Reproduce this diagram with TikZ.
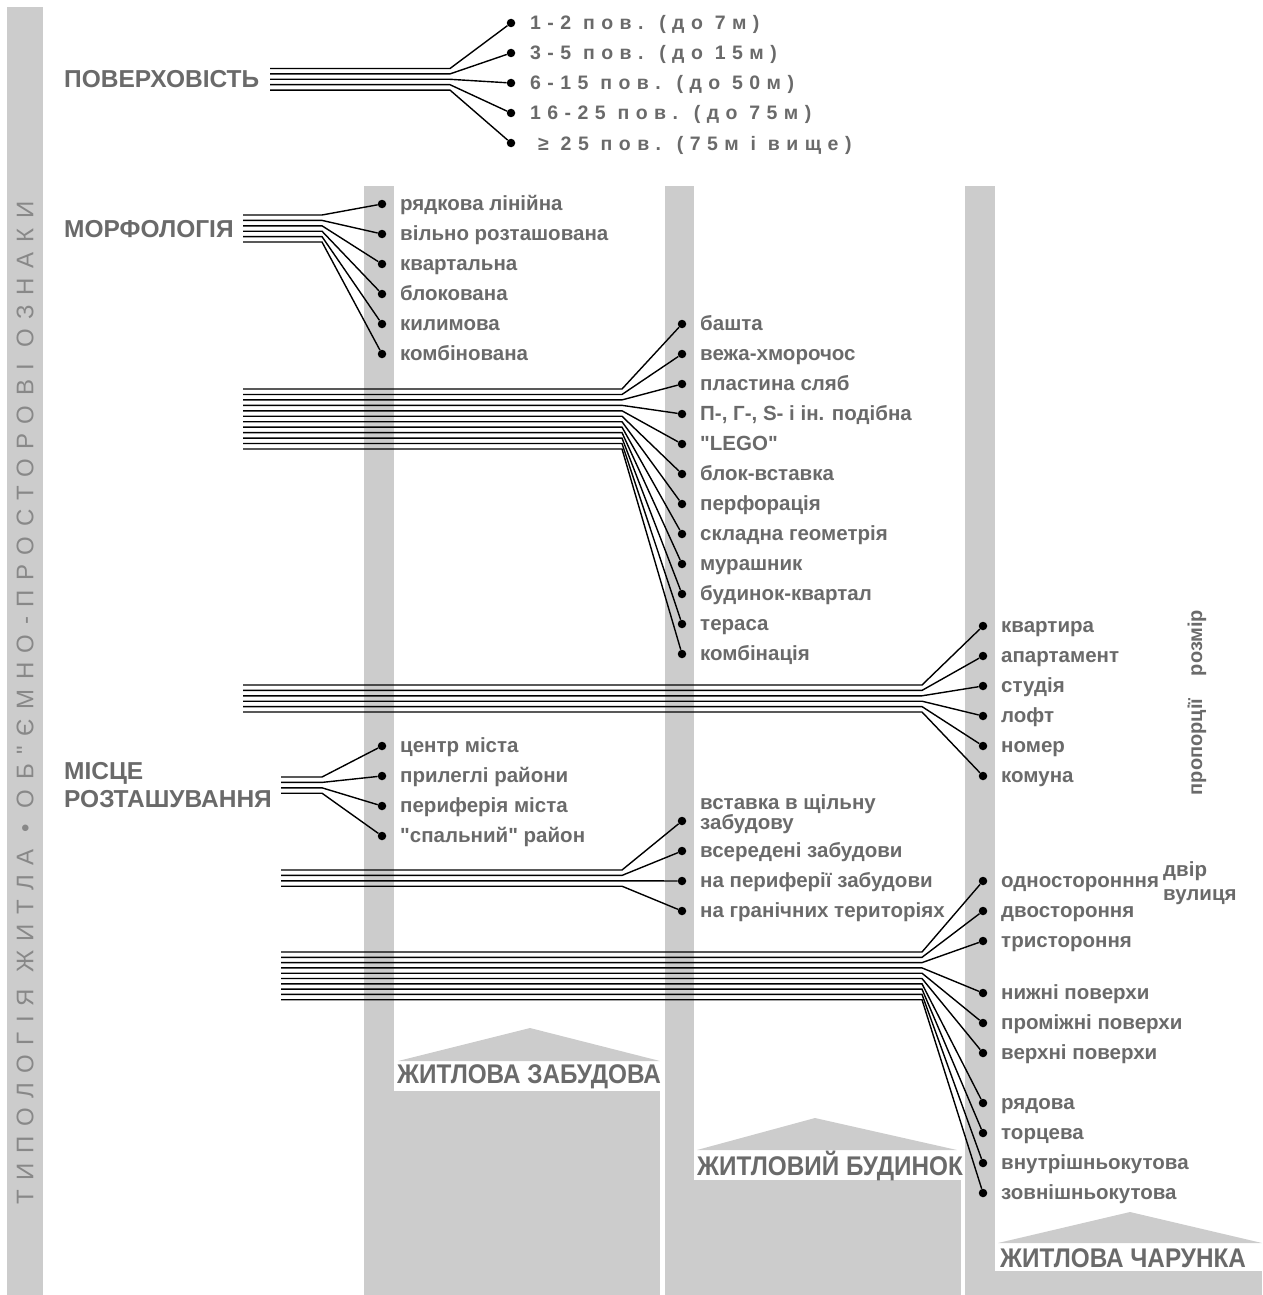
\documentclass[tikz,border=0pt]{standalone}
\usepackage{fontspec}
\setmainfont{Liberation Sans}
\newfontfamily\plainfont{Liberation Sans}
\newfontfamily\spfont[LetterSpace=33]{Liberation Sans}
\newfontfamily\vfont[LetterSpace=40]{Liberation Sans}
\newfontfamily\cfont[FakeStretch=0.9]{Liberation Sans}
\usetikzlibrary{calc}
\definecolor{barg}{HTML}{CCCCCC}
\definecolor{txtg}{HTML}{6A6A6A}
\definecolor{vtxt}{HTML}{888888}
\tikzset{
  ln/.style={line width=1.4pt, black},
  dotn/.style={circle, fill=black, inner sep=0pt, minimum size=8.5pt},
  lbl/.style={anchor=base west, inner sep=0pt, text=txtg, font=\plainfont\bfseries\fontsize{20.5}{20.5}\selectfont},
  splbl/.style={anchor=base west, inner sep=0pt, text=txtg, font=\spfont\bfseries\fontsize{19.5}{19.5}\selectfont},
  head/.style={anchor=west, inner sep=0pt, text=txtg, align=left, font=\plainfont\bfseries\fontsize{24.5}{28}\selectfont},
  colhead/.style={inner sep=0pt, text=txtg, font=\cfont\bfseries\fontsize{27}{27}\selectfont},
  rotlbl/.style={rotate=90, inner sep=0pt, text=txtg, font=\plainfont\bfseries\fontsize{20}{20}\selectfont},
  barfill/.style={fill=barg, draw=none}
}
\begin{document}
\begin{tikzpicture}[x=1pt,y=-1pt]
\useasboundingbox (0,0) rectangle (1262,1295);
% bars
\fill[barfill] (7,7) rectangle (43,1295);
\fill[barfill] (364,186) rectangle (394,1295);
\fill[barfill] (665,186) rectangle (694,1295);
\fill[barfill] (965,186) rectangle (995,1295);
\fill[barfill] (364,1091) rectangle (660,1295);
\fill[barfill] (665,1180) rectangle (961,1295);
\fill[barfill] (965,1271) rectangle (1262,1295);
% roofs
\fill[barfill] (398,1061) -- (530,1028) -- (660,1061) -- cycle;
\fill[barfill] (697,1150) -- (815,1118) -- (957,1150) -- cycle;
\fill[barfill] (998,1243) -- (1130,1212) -- (1262,1243) -- cycle;
% column titles
\node[colhead] (t1) at (529,1077) {ЖИТЛОВА ЗАБУДОВА};
\node[colhead] (t2) at (830,1166) {ЖИТЛОВИЙ БУДИНОК};
\node[colhead] (t3) at (1123,1258) {ЖИТЛОВА ЧАРУНКА};
% vertical title
\node[rotate=90, anchor=west, inner sep=0pt, text=vtxt, font=\vfont\fontsize{24}{24}\selectfont] (vt) at (25,1205) {ТИПОЛОГІЯ ЖИТЛА • ОБ"ЄМНО-ПРОСТОРОВІ ОЗНАКИ};
% headings
\node[head] (hp) at (64,79) {ПОВЕРХОВІСТЬ};
\node[head] (hm) at (64,229) {МОРФОЛОГІЯ};
\node[head] (hl) at (64,785) {МІСЦЕ\\РОЗТАШУВАННЯ};
% group P
\foreach \t [count=\k from 0] in {1-2 пов. (до 7м), 3-5 пов. (до 15м), 6-15 пов. (до 50м), 16-25 пов. (до 75м), {\hspace{8pt}≥ 25 пов. (75м і вище)}} {
  \node[dotn] (p\k) at (511,{23+30*\k}) {};
  \node[splbl] (pl\k) at (530,{30+30*\k}) {\t};
  \coordinate (ps\k) at (270,{68.5+5.4*\k});
  \coordinate (pb\k) at (450,{68.5+5.4*\k});
  \draw[ln] (ps\k) -- (pb\k) -- (p\k);
}
% group M
\foreach \t [count=\k from 0] in {рядкова лінійна, вільно розташована, квартальна, блокована, килимова, комбінована} {
  \node[dotn] (m\k) at (382,{204+30*\k}) {};
  \node[lbl] (ml\k) at (400,{210.5+30*\k}) {\t};
  \coordinate (ms\k) at (243,{215+5.4*\k});
  \coordinate (mb\k) at (322,{215+5.4*\k});
  \draw[ln] (ms\k) -- (mb\k) -- (m\k);
}
% group B
\foreach \t [count=\k from 0] in {башта, вежа-хморочос, пластина сляб, {П-, Г-, S- і ін. подібна}, "LEGO", блок-вставка, перфорація, складна геометрія, мурашник, будинок-квартал, тераса, комбінація} {
  \node[dotn] (b\k) at (682,{324+30*\k}) {};
  \node[lbl] (bl\k) at (700,{330.5+30*\k}) {\t};
  \coordinate (bs\k) at (243,{389+5.45*\k});
  \coordinate (bb\k) at (622,{389+5.45*\k});
  \draw[ln] (bs\k) -- (bb\k) -- (b\k);
}
% group C
\foreach \t [count=\k from 0] in {квартира, апартамент, студія, лофт, номер, комуна} {
  \node[dotn] (c\k) at (983,{626+30*\k}) {};
  \node[lbl] (cl\k) at (1001,{632.5+30*\k}) {\t};
  \coordinate (cs\k) at (243,{685+5.4*\k});
  \coordinate (cb\k) at (922,{685+5.4*\k});
  \draw[ln] (cs\k) -- (cb\k) -- (c\k);
}
\node[rotlbl] (rz) at (1197,643) {розмір};
\node[rotlbl] (rp) at (1197,747) {пропорції};
% group L
\foreach \t [count=\k from 0] in {центр міста, прилеглі райони, периферія міста, "спальний" район} {
  \node[dotn] (l\k) at (382,{746+30*\k}) {};
  \node[lbl] (ll\k) at (400,{752.5+30*\k}) {\t};
  \coordinate (ls\k) at (281,{777+5.4*\k});
  \coordinate (lb\k) at (322,{777+5.4*\k});
  \draw[ln] (ls\k) -- (lb\k) -- (l\k);
}
% group Z
\foreach \y/\t [count=\k from 0] in {821/{}, 851/всередені забудови, 881/на периферії забудови, 911/на гранічних територіях} {
  \node[dotn] (z\k) at (682,\y) {};
  \node[lbl] (zl\k) at (700,{\y+6.5}) {\t};
  \coordinate (zs\k) at (281,{870+5.4*\k});
  \coordinate (zb\k) at (622,{870+5.4*\k});
  \draw[ln] (zs\k) -- (zb\k) -- (z\k);
}
\node[lbl, align=left, font=\plainfont\bfseries\fontsize{20.5}{18}\selectfont, anchor=north west] (zl0b) at (700,794) {вставка в щільну\\забудову};
% group K
\foreach \y/\t [count=\k from 0] in {881/односторонння, 911/двостороння, 941/тристороння, 993/нижні поверхи, 1023/проміжні поверхи, 1053/верхні поверхи, 1103/рядова, 1133/торцева, 1163/внутрішньокутова, 1193/зовнішньокутова} {
  \node[dotn] (k\k) at (983,\y) {};
  \node[lbl] (kl\k) at (1001,{\y+6.5}) {\t};
  \coordinate (ks\k) at (281,{952+5.3*\k});
  \coordinate (kb\k) at (922,{952+5.3*\k});
  \draw[ln] (ks\k) -- (kb\k) -- (k\k);
}
\node[lbl] (dv) at (1163,876) {двір};
\node[lbl] (vu) at (1163,900) {вулиця};
\end{tikzpicture}
\end{document}
